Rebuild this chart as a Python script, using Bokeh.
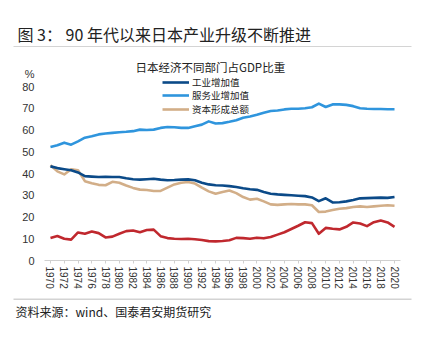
from bokeh.plotting import figure
from bokeh.layouts import column
from bokeh.models import (Range1d, FixedTicker, Label, Legend, LegendItem,
                          ColumnDataSource)
from bokeh.embed import file_html
from bokeh.resources import INLINE

years = list(range(1970, 2021))

industry = [43.3, 42.5, 42.0, 41.5, 40.5, 38.8, 38.6, 38.4, 38.5, 38.4,
            38.4, 37.8, 37.4, 37.2, 37.4, 37.6, 37.2, 36.9, 37.0, 37.2,
            37.3, 36.9, 35.8, 35.0, 34.6, 34.5, 34.2, 33.8, 33.2, 32.8,
            32.5, 31.5, 30.7, 30.4, 30.2, 30.0, 29.8, 29.6, 29.0, 27.3,
            28.6, 26.7, 26.8, 27.2, 27.8, 28.6, 28.7, 28.8, 28.9, 28.8,
            29.2]

services = [52.2, 53.0, 54.2, 53.3, 54.8, 56.5, 57.2, 58.0, 58.4, 58.7,
            59.0, 59.2, 59.5, 60.2, 60.0, 60.2, 61.0, 61.4, 61.3, 61.0,
            61.0, 61.8, 62.5, 64.0, 63.0, 63.2, 63.8, 64.5, 65.7, 66.2,
            67.0, 68.0, 68.8, 69.0, 69.5, 69.8, 69.8, 70.0, 70.5, 72.2,
            70.6, 71.8, 71.8, 71.6, 71.0, 70.0, 69.8, 69.7, 69.7, 69.6,
            69.6]

capital = [43.8, 41.0, 39.6, 42.0, 41.5, 36.5, 35.5, 34.8, 34.6, 36.2,
           35.8, 34.5, 33.4, 32.6, 32.4, 32.0, 32.0, 33.5, 35.0, 35.8,
           36.1, 35.4, 33.5, 31.8, 30.7, 31.5, 32.2, 31.0, 29.2, 28.0,
           28.4, 27.2, 25.8, 25.6, 25.8, 26.0, 25.8, 25.8, 25.4, 22.3,
           22.5, 23.2, 23.8, 24.1, 24.6, 24.9, 24.6, 24.9, 25.2, 25.4,
           25.2]

other = [10.4, 11.3, 10.0, 9.6, 12.9, 12.3, 13.3, 12.6, 10.6, 11.0,
         12.3, 13.5, 13.8, 13.0, 14.0, 14.2, 11.2, 10.3, 10.0, 9.9,
         10.0, 9.8, 9.4, 8.9, 8.8, 9.0, 9.3, 10.4, 10.3, 10.0,
         10.5, 10.2, 10.8, 11.9, 13.0, 14.5, 16.0, 17.6, 17.2, 12.3,
         15.0, 14.6, 14.3, 15.5, 17.5, 17.0, 15.8, 17.6, 18.4, 17.5,
         15.5]

series_names = ["工业增加值", "服务业增加值", "资本形成总额"]
y_ticks = [0, 10, 20, 30, 40, 50, 60, 70, 80]
x_ticks = list(range(1970, 2021, 2))
unit_text = "%"

title_text = "图 3：  90 年代以来日本产业升级不断推进"
legend_title = "日本经济不同部门占GDP比重"
source_text = "资料来源：wind、国泰君安期货研究"

CJK = "Noto Sans CJK SC"
NUM = "Liberation Sans"
W = 425


def plain_fig(h, top, bottom):
    f = figure(width=W, height=h, output_backend="svg", toolbar_location=None,
               x_range=Range1d(0, W), y_range=Range1d(bottom, top),
               x_axis_type=None, y_axis_type=None,
               min_border=0, min_border_left=0, min_border_right=0,
               min_border_top=0, min_border_bottom=0)
    f.frame_align = False
    f.outline_line_color = None
    f.grid.visible = False
    f.background_fill_color = "white"
    f.border_fill_color = "white"
    return f


# ---- header ----
head = plain_fig(47, 0, 47)
head.add_layout(Label(x=17, y=33, text=title_text, text_font=CJK,
                      text_font_size="16px", text_color="#222222",
                      text_baseline="middle"))
head.segment(x0=[13], y0=[46.5], x1=[411], y1=[46.5], line_color="#a8a8a8",
             line_width=1)

# ---- main chart ----
src = ColumnDataSource(dict(year=years, industry=industry, services=services,
                            capital=capital, other=other))

p = figure(width=W, height=251, output_backend="svg", toolbar_location=None,
           x_range=Range1d(1969.13, 2020.87), y_range=Range1d(0, 92),
           min_border_left=44, min_border_right=25, min_border_top=13,
           min_border_bottom=38)
p.frame_align = False
p.outline_line_color = None
p.grid.visible = False
p.background_fill_color = "white"
p.border_fill_color = "white"

ya = p.yaxis[0]
ya.ticker = FixedTicker(ticks=y_ticks + [86])
ya.major_label_overrides = {86: unit_text}
ya.axis_line_color = None
ya.major_tick_line_color = None
ya.minor_tick_line_color = None
ya.major_label_text_font = NUM
ya.major_label_text_font_size = "11px"
ya.major_label_text_color = "#333333"
ya.major_label_standoff = 4

xa = p.xaxis[0]
xa.ticker = FixedTicker(ticks=x_ticks)
xa.axis_line_color = "#d0d0d0"
xa.major_tick_line_color = "#d0d0d0"
xa.major_tick_in = 0
xa.major_tick_out = 3
xa.minor_tick_line_color = None
xa.major_label_orientation = "vertical"
xa.major_label_text_font = NUM
xa.major_label_text_font_size = "10px"
xa.major_label_text_color = "#333333"
xa.major_label_standoff = 3

lw = 2.6
r_other = p.line("year", "other", source=src, line_color="#c0282e", line_width=lw, line_join="round")
r_cap = p.line("year", "capital", source=src, line_color="#d2ae88", line_width=lw, line_join="round")
r_ind = p.line("year", "industry", source=src, line_color="#0b4a88", line_width=lw, line_join="round")
r_srv = p.line("year", "services", source=src, line_color="#2f95dd", line_width=lw, line_join="round")

# one legend per entry so the row pitch matches the reference
for name, rend, vy in zip(series_names, [r_ind, r_srv, r_cap], [171.5, 158, 144.5]):
    lg = Legend(items=[LegendItem(label=name, renderers=[rend])],
                location=(118, vy), orientation="vertical",
                padding=0, margin=0, spacing=0,
                glyph_width=27, glyph_height=10, label_height=10,
                label_standoff=3,
                label_text_font=CJK, label_text_font_size="9.5px",
                label_text_color="#222222",
                background_fill_alpha=0, border_line_alpha=0)
    p.add_layout(lg, "center")

p.add_layout(Label(x=1982.36, y=88.8, text=legend_title, text_font=CJK,
                   text_font_size="11.5px", text_color="#222222",
                   text_baseline="middle"))

# ---- footer ----
foot = plain_fig(42, 298, 340)
foot.segment(x0=[13], y0=[298.5], x1=[411], y1=[298.5], line_color="#a8a8a8",
             line_width=1)
foot.add_layout(Label(x=15, y=311, text=source_text, text_font=CJK,
                      text_font_size="12px", text_color="#222222",
                      text_baseline="middle"))

layout = column(head, p, foot, spacing=0)
open("out.html", "w").write(file_html(layout, INLINE))
